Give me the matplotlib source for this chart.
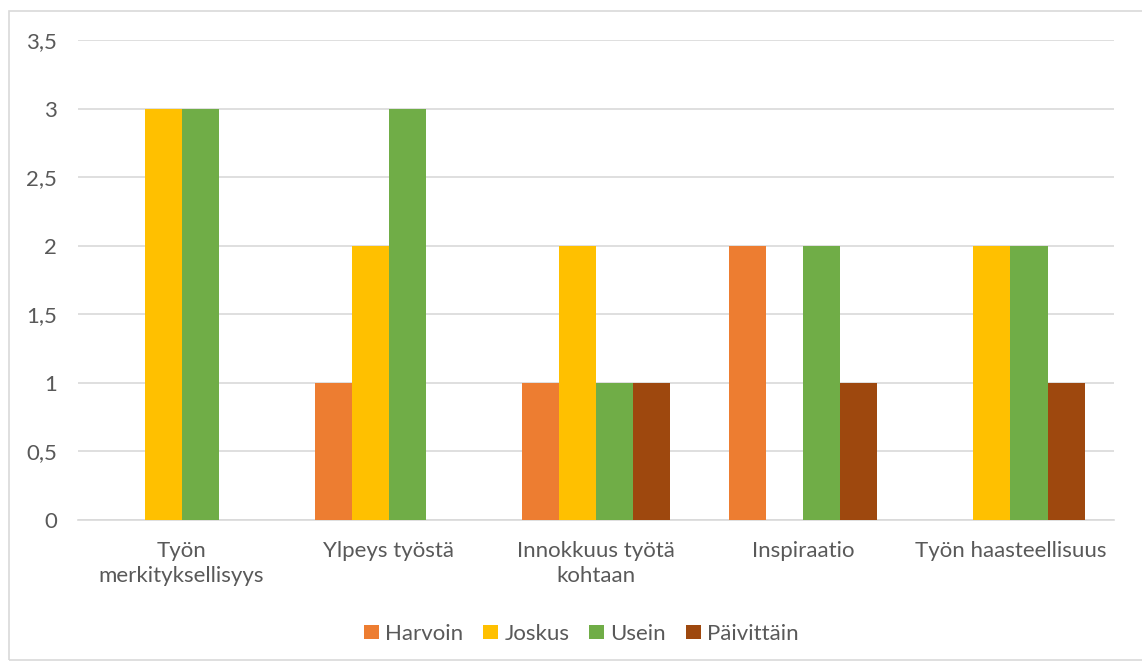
import numpy as np
import matplotlib
matplotlib.use('Agg')
from matplotlib import pyplot as plt
from matplotlib.patches import Rectangle

# Data
categories = ['Työn\nmerkityksellisyys', 'Ylpeys työstä', 'Innokkuus työtä\nkohtaan',
              'Inspiraatio', 'Työn haasteellisuus']
series_names = ['Harvoin', 'Joskus', 'Usein', 'Päivittäin']
harvoin = [0, 1, 1, 2, 0]
joskus = [3, 2, 2, 0, 2]
usein = [3, 3, 1, 2, 2]
paivittain = [0, 0, 1, 1, 1]
y_ticks = [0, 0.5, 1, 1.5, 2, 2.5, 3, 3.5]
y_tick_labels = ['0', '0,5', '1', '1,5', '2', '2,5', '3', '3,5']

colors = ['#ED7D31', '#FFC000', '#70AD47', '#9E480E']
text_color = '#595959'
grid_color = '#D9D9D9'

plt.rcParams['font.family'] = ['Lato', 'DejaVu Sans']

fig = plt.figure(figsize=(11.42, 6.66), dpi=100)
ax = fig.add_axes([0.0683, 0.2192, 0.9072, 0.7208])

# Outer chart border
fig.patches.append(Rectangle((9 / 1142, 6 / 666), 1.0, 649 / 666, transform=fig.transFigure,
                             fill=False, edgecolor=grid_color, linewidth=1.2))

x = np.arange(len(categories))
width = 0.179
all_series = [harvoin, joskus, usein, paivittain]
for i, (vals, name) in enumerate(zip(all_series, series_names)):
    ax.bar(x + (i - 1.5) * width, vals, width, color=colors[i], label=name, zorder=3)

ax.set_xlim(-0.5, len(categories) - 0.5)
ax.set_ylim(0, 3.5)
ax.set_yticks(y_ticks)
ax.set_yticklabels(y_tick_labels)
ax.set_xticks(x)
ax.set_xticklabels(categories, linespacing=1.35)

ax.grid(axis='y', color=grid_color, linewidth=1.2, zorder=0)
for s in ['top', 'right', 'left']:
    ax.spines[s].set_visible(False)
ax.spines['bottom'].set_color(grid_color)
ax.spines['bottom'].set_linewidth(1.2)
ax.tick_params(axis='both', length=0, labelsize=16, labelcolor=text_color)
ax.tick_params(axis='y', pad=15)
ax.tick_params(axis='x', pad=15)

ax.legend(loc='center', bbox_to_anchor=(0.486, -0.237), ncol=4, frameon=False,
          fontsize=16, labelcolor=text_color, handlelength=0.65, handleheight=0.65,
          handletextpad=0.3, columnspacing=0.9)

fig.savefig('out.png', dpi=100)
